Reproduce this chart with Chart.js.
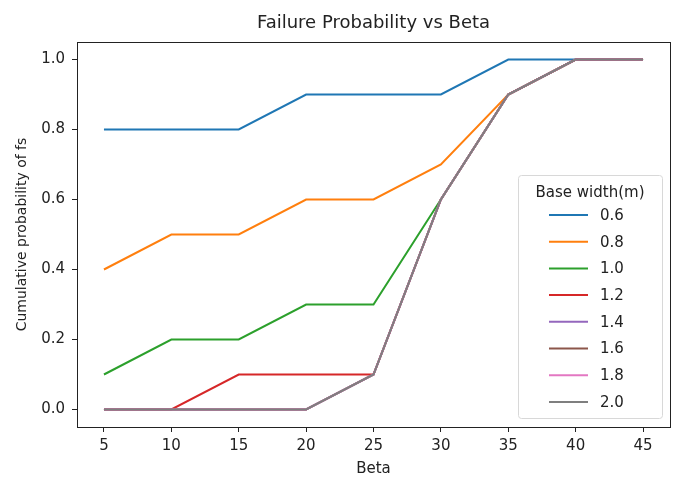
<!DOCTYPE html>
<html>
<head>
<meta charset="utf-8">
<script src="https://cdn.jsdelivr.net/npm/chart.js@4.4.0/dist/chart.umd.min.js"></script>
<style>
  body { margin: 0; background: #fff; }
  #wrap { width: 677px; height: 482px; }
</style>
</head>
<body>
<div id="wrap"><canvas id="myChart" width="677" height="482"></canvas></div>
<script>
// beta values on the x axis
const betas = [5, 10, 15, 20, 25, 30, 35, 40, 45];
const widths = ['0.6', '0.8', '1.0', '1.2', '1.4', '1.6', '1.8', '2.0'];

const p06 = [0.8, 0.8, 0.8, 0.9, 0.9, 0.9, 1.0, 1.0, 1.0];
const p08 = [0.4, 0.5, 0.5, 0.6, 0.6, 0.7, 0.9, 1.0, 1.0];
const p10 = [0.1, 0.2, 0.2, 0.3, 0.3, 0.6, 0.9, 1.0, 1.0];
const p12 = [0.0, 0.0, 0.1, 0.1, 0.1, 0.6, 0.9, 1.0, 1.0];
const p14 = [0.0, 0.0, 0.0, 0.0, 0.1, 0.6, 0.9, 1.0, 1.0];
const p16 = [0.0, 0.0, 0.0, 0.0, 0.1, 0.6, 0.9, 1.0, 1.0];
const p18 = [0.0, 0.0, 0.0, 0.0, 0.1, 0.6, 0.9, 1.0, 1.0];
const p20 = [0.0, 0.0, 0.0, 0.0, 0.1, 0.6, 0.9, 1.0, 1.0];
const allSeries = [p06, p08, p10, p12, p14, p16, p18, p20];

const colors = ['#1f77b4', '#ff7f0e', '#2ca02c', '#d62728', '#9467bd', '#8c564b', '#e377c2', '#7f7f7f'];
const fontFam = '"DejaVu Sans", sans-serif';

const datasets = allSeries.map(function(s, i){
  return {
    label: widths[i],
    data: s.map(function(v, j){ return {x: betas[j], y: v}; }),
    borderColor: colors[i],
    backgroundColor: colors[i],
    borderWidth: 2,
    pointRadius: 0,
    tension: 0,
    fill: false,
    order: allSeries.length - i   // later series on top, like matplotlib
  };
});

// frame, title and the legend box inside the axes (like matplotlib)
const extras = {
  id: 'extras',
  afterDraw(chart){
    const ctx = chart.ctx;
    const a = chart.chartArea;
    ctx.save();
    ctx.strokeStyle = '#222';
    ctx.lineWidth = 1;
    ctx.strokeRect(a.left + 0.5, a.top + 0.5, a.right - a.left, a.bottom - a.top);

    ctx.fillStyle = '#222';
    ctx.font = '18px ' + fontFam;
    ctx.textAlign = 'center';
    ctx.textBaseline = 'middle';
    ctx.fillText('Failure Probability vs Beta', (a.left + a.right) / 2, 23);

    // legend
    const lx = 518, ly = 175, lw = 144, lh = 243;
    ctx.fillStyle = 'rgba(255,255,255,0.85)';
    ctx.strokeStyle = '#d8d8d8';
    ctx.beginPath();
    ctx.roundRect(lx + 0.5, ly + 0.5, lw, lh, 3);
    ctx.fill();
    ctx.stroke();
    ctx.fillStyle = '#222';
    ctx.font = '15px ' + fontFam;
    ctx.fillText('Base width(m)', lx + lw / 2, 193);
    ctx.textAlign = 'left';
    for(let i = 0; i < widths.length; i++){
      const yy = 215 + i * 26.7;
      ctx.strokeStyle = colors[i];
      ctx.lineWidth = 2;
      ctx.beginPath();
      ctx.moveTo(549, yy);
      ctx.lineTo(588, yy);
      ctx.stroke();
      ctx.fillStyle = '#222';
      ctx.font = '15px ' + fontFam;
      ctx.fillText(widths[i], 600, yy + 1);
    }
    ctx.restore();
  }
};

const config = {
  type: 'line',
  data: { datasets: datasets },
  options: {
    responsive: false,
    animation: false,
    layout: { padding: { left: 0, top: 42, right: 7, bottom: 0 } },
    plugins: { legend: { display: false }, tooltip: { enabled: false } },
    scales: {
      x: {
        type: 'linear',
        min: 3, max: 47,
        afterFit: function(scale){ scale.height = 55; },
        afterBuildTicks: function(scale){
          scale.ticks = betas.map(function(b){ return {value: b}; });
        },
        grid: { drawOnChartArea: false, drawTicks: true, tickLength: 5, color: '#222' },
        border: { display: true, color: '#222' },
        ticks: { color: '#222', font: { family: fontFam, size: 15 }, padding: 5, maxRotation: 0 },
        title: { display: true, text: 'Beta', color: '#222', font: { family: fontFam, size: 15 }, padding: { top: 5 } }
      },
      y: {
        type: 'linear',
        min: -0.05, max: 1.05,
        afterFit: function(scale){ scale.width = 77; },
        afterBuildTicks: function(scale){
          scale.ticks = [0, 0.2, 0.4, 0.6, 0.8, 1.0].map(function(v){ return {value: v}; });
        },
        grid: { drawOnChartArea: false, drawTicks: true, tickLength: 5, color: '#222' },
        border: { display: true, color: '#222' },
        ticks: {
          color: '#222', font: { family: fontFam, size: 15 }, padding: 7,
          callback: function(v){ return Number(v).toFixed(1); }
        },
        title: { display: true, text: 'Cumulative probability of fs', color: '#222', font: { family: fontFam, size: 14 }, padding: { top: 14, bottom: 4 } }
      }
    }
  },
  plugins: [extras]
};

const myChart = new Chart(document.getElementById('myChart'), config);
</script>
</body>
</html>
